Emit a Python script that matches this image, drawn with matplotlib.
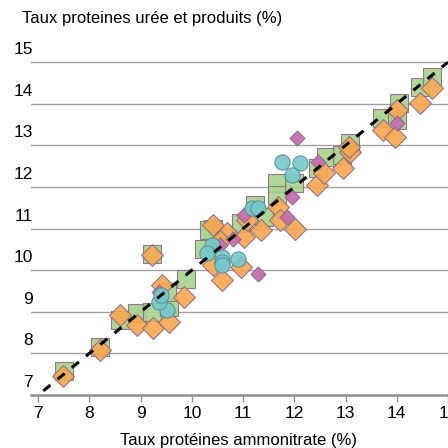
import matplotlib
matplotlib.use("Agg")
import matplotlib.pyplot as plt
import matplotlib.transforms as mtransforms

plt.rcParams["font.family"] = ["Liberation Sans Narrow", "Liberation Sans", "DejaVu Sans"]

# green squares
sq_x = [7.50, 8.20, 8.60, 8.93, 9.22, 9.55, 9.22, 9.51, 9.88, 10.23, 10.42, 10.33, 10.95,
        11.24, 11.40, 11.66, 11.66, 11.99, 12.47, 12.61, 12.93, 13.09, 13.71, 14.00, 14.04,
        14.46, 14.69]
sq_y = [7.58, 8.16, 8.80, 8.97, 9.00, 9.12, 10.39, 9.48, 9.80, 10.50, 11.00, 10.97, 11.13,
        11.57, 11.29, 12.09, 11.81, 12.09, 12.45, 12.73, 12.77, 13.05, 13.65, 13.61, 14.01,
        14.41, 14.65]

# orange diamonds
or_x = [7.49, 8.21, 8.59, 8.93, 9.25, 9.55, 9.22, 9.42, 9.84, 10.42, 10.68, 10.42, 10.59,
        10.95, 11.01, 11.08, 11.34, 11.69, 11.73, 12.02, 12.44, 12.57, 12.96, 13.09, 13.06,
        13.74, 13.97, 14.00, 14.46, 14.69, 10.55]
or_y = [7.46, 8.08, 8.92, 8.68, 8.61, 8.76, 10.37, 9.64, 9.36, 11.09, 10.89, 10.13, 9.76,
        10.08, 10.81, 11.21, 10.97, 11.52, 11.21, 11.00, 12.05, 12.33, 12.45, 12.85, 12.97,
        13.37, 13.21, 13.85, 14.01, 14.37, 10.70]

# pink diamonds
pk_x = [9.36, 10.55, 10.80, 11.01, 11.30, 11.86, 11.95, 12.47, 12.05, 14.00]
pk_y = [9.47, 10.60, 10.75, 11.33, 9.92, 11.29, 11.77, 12.61, 13.17, 13.53]

# teal circles
tl_x = [9.51, 9.35, 9.40, 10.39, 10.29, 10.59, 10.59, 10.59, 10.91, 11.17, 11.30, 11.76,
        12.12, 11.95]
tl_y = [9.04, 9.24, 9.40, 10.61, 10.41, 10.32, 10.20, 10.12, 10.28, 11.49, 11.49, 12.61,
        12.57, 12.29]

ref_x = [7.1, 15.0]
ref_y = [7.1, 15.0]

x_ticks = [7, 8, 9, 10, 11, 12, 13, 14, 15]
y_ticks = [7, 8, 9, 10, 11, 12, 13, 14, 15]

fig = plt.figure(figsize=(4.48, 4.48), dpi=100)
ax = fig.add_axes([31 / 448, 1 - 395 / 448, 417 / 448, (395 - 50) / 448])
ax.set_xlim(6.86, 15.0)
ax.set_ylim(7, 7 + 345 / 41.6)

# gridlines
for v in y_ticks[1:]:
    ax.axhline(v, color="#a0a0a0", lw=1.0, zorder=1)

edge = "#8a6f88"
ax.scatter(sq_x, sq_y, marker="s", s=170, color="#a9d48d", edgecolors=edge,
           linewidths=0.8, alpha=0.92, zorder=3)
ax.scatter(or_x, or_y, marker="D", s=125, color="#f7a750", edgecolors=edge,
           linewidths=0.8, alpha=0.92, zorder=4)
ax.scatter(pk_x, pk_y, marker="D", s=58, color="#c86daf", edgecolors=edge,
           linewidths=0.8, alpha=0.95, zorder=5)
ax.scatter(tl_x, tl_y, marker="o", s=120, color="#74c9cc", edgecolors="#5f8c96",
           linewidths=0.8, alpha=0.9, zorder=6)

ax.plot(ref_x, ref_y, color="black", lw=2.2, ls=(0, (3, 3)), zorder=7)

for s in ["top", "right", "left"]:
    ax.spines[s].set_visible(False)
ax.spines["bottom"].set_color("#909090")
ax.spines["bottom"].set_linewidth(1.8)

ax.set_xticks(x_ticks)
ax.set_xticklabels([str(t) for t in x_ticks], fontsize=12.5)
ax.tick_params(axis="x", length=5, width=1, color="#909090", pad=3)
ax.set_yticks([])

# y tick labels sit above their gridlines
trans = mtransforms.blended_transform_factory(fig.transFigure, ax.transData)
for v in y_ticks:
    ax.text(33 / 448, v + 0.12, str(v), transform=trans, ha="right", va="bottom",
            fontsize=12.5)

fig.text(22 / 448, 1 - 18 / 448, "Taux proteines urée et produits (%)", ha="left",
         va="center", fontsize=12)
fig.text(238 / 448, 1 - 440 / 448, "Taux protéines ammonitrate (%)", ha="center",
         va="center", fontsize=12)

fig.savefig("out.png", dpi=100)
